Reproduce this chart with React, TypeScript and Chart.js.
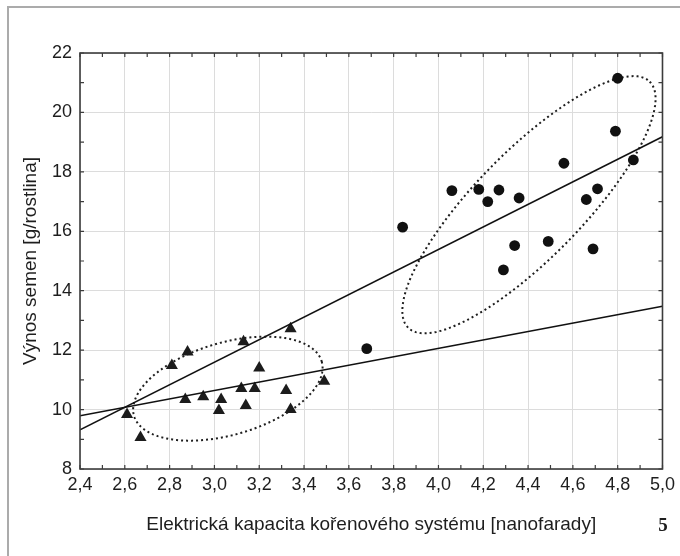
import React, { useEffect, useRef } from "react";
import { Chart, registerables } from "chart.js";

Chart.register(...registerables);

// ---- data ----
const triangleX = [2.61, 2.67, 2.81, 2.88, 2.87, 2.95, 3.03, 3.02, 3.12, 3.14, 3.13, 3.18, 3.2, 3.32, 3.34, 3.34, 3.49];
const triangleY = [9.83, 9.06, 11.48, 11.94, 10.34, 10.43, 10.34, 9.97, 10.71, 10.14, 12.28, 10.71, 11.4, 10.64, 12.72, 10.0, 10.95];

const circleX = [3.68, 3.84, 4.06, 4.18, 4.22, 4.27, 4.36, 4.29, 4.34, 4.49, 4.56, 4.66, 4.71, 4.69, 4.79, 4.8, 4.87];
const circleY = [12.05, 16.14, 17.37, 17.41, 17.0, 17.39, 17.12, 14.7, 15.52, 15.66, 18.29, 17.07, 17.43, 15.41, 19.37, 21.15, 18.4];

const steepLineX = [2.4, 5.0];
const steepLineY = [9.32, 19.18];
const shallowLineX = [2.4, 5.0];
const shallowLineY = [9.79, 13.48];

const xTicks = [2.4, 2.6, 2.8, 3.0, 3.2, 3.4, 3.6, 3.8, 4.0, 4.2, 4.4, 4.6, 4.8, 5.0];
const yTicks = [8, 10, 12, 14, 16, 18, 20, 22];

// ellipses: centre and two conjugate semi-diameter end points (data units)
const ellipseCenters = [
  [3.06, 10.704],
  [4.404, 16.894],
];
const ellipseAxisA = [
  [3.479, 11.616],
  [4.943, 21.034],
];
const ellipseAxisB = [
  [3.117, 9.21],
  [4.574, 15.632],
];

const xTitle = "Elektrická kapacita kořenového systému [nanofarady]";
const yTitle = "Výnos semen [g/rostlina]";
const figureNumber = "5";

const SANS = "'Liberation Sans', Arial, sans-serif";
const SERIF = "'Liberation Serif', 'Times New Roman', serif";

const fmt = (v: number) => Number(v).toFixed(1).replace(".", ",");

const decorPlugin = {
  id: "decor",
  beforeDraw(chart: any) {
    const ctx = chart.ctx;
    ctx.save();
    ctx.fillStyle = "#ffffff";
    ctx.fillRect(0, 0, chart.width, chart.height);
    ctx.strokeStyle = "#ababab";
    ctx.lineWidth = 2;
    ctx.beginPath();
    ctx.moveTo(8, chart.height);
    ctx.lineTo(8, 7);
    ctx.lineTo(chart.width, 7);
    ctx.stroke();
    ctx.restore();
  },
  beforeDatasetsDraw(chart: any) {
    const ctx = chart.ctx;
    const xs = chart.scales.x;
    const ys = chart.scales.y;
    ctx.save();
    ctx.strokeStyle = "#1e1e1e";
    ctx.lineWidth = 2;
    ctx.setLineDash([2, 3]);
    for (let e = 0; e < ellipseCenters.length; e++) {
      const cx = xs.getPixelForValue(ellipseCenters[e][0]);
      const cy = ys.getPixelForValue(ellipseCenters[e][1]);
      const ax = xs.getPixelForValue(ellipseAxisA[e][0]) - cx;
      const ay = ys.getPixelForValue(ellipseAxisA[e][1]) - cy;
      const bx = xs.getPixelForValue(ellipseAxisB[e][0]) - cx;
      const by = ys.getPixelForValue(ellipseAxisB[e][1]) - cy;
      ctx.beginPath();
      const n = 240;
      for (let i = 0; i <= n; i++) {
        const t = (i / n) * Math.PI * 2;
        const px = cx + ax * Math.cos(t) + bx * Math.sin(t);
        const py = cy + ay * Math.cos(t) + by * Math.sin(t);
        if (i === 0) ctx.moveTo(px, py);
        else ctx.lineTo(px, py);
      }
      ctx.stroke();
    }
    ctx.restore();
  },
  afterDraw(chart: any) {
    const ctx = chart.ctx;
    const a = chart.chartArea;
    const xs = chart.scales.x;
    const ys = chart.scales.y;
    ctx.save();
    // frame
    ctx.strokeStyle = "#3c3c3c";
    ctx.lineWidth = 1.6;
    ctx.setLineDash([]);
    ctx.strokeRect(a.left, a.top, a.right - a.left, a.bottom - a.top);
    // inward minor ticks
    ctx.lineWidth = 1.2;
    const tl = 4;
    ctx.beginPath();
    for (let i = 0; i <= 26; i++) {
      const px = xs.getPixelForValue(xs.min + i * 0.1);
      ctx.moveTo(px, a.bottom);
      ctx.lineTo(px, a.bottom - tl);
      ctx.moveTo(px, a.top);
      ctx.lineTo(px, a.top + tl);
    }
    for (let v = ys.min; v <= ys.max; v += 1) {
      const py = ys.getPixelForValue(v);
      ctx.moveTo(a.left, py);
      ctx.lineTo(a.left + tl, py);
      ctx.moveTo(a.right, py);
      ctx.lineTo(a.right - tl, py);
    }
    ctx.stroke();
    // titles
    ctx.fillStyle = "#1e1e1e";
    ctx.font = `19px ${SANS}`;
    ctx.textAlign = "center";
    ctx.textBaseline = "alphabetic";
    ctx.fillText(xTitle, (a.left + a.right) / 2, 530);
    ctx.save();
    ctx.translate(36, (a.top + a.bottom) / 2);
    ctx.rotate(-Math.PI / 2);
    ctx.fillText(yTitle, 0, 0);
    ctx.restore();
    ctx.font = `bold 19px ${SERIF}`;
    ctx.fillText(figureNumber, 663, 531);
    ctx.restore();
  },
};

export default function App() {
  const ref = useRef<HTMLCanvasElement | null>(null);

  useEffect(() => {
    if (!ref.current) return;
    const toPts = (xs: number[], ys: number[]) => xs.map((x, i) => ({ x, y: ys[i] }));
    const chart = new Chart(ref.current, {
      type: "scatter",
      data: {
        datasets: [
          {
            label: "steep",
            type: "line",
            data: toPts(steepLineX, steepLineY),
            borderColor: "#111",
            borderWidth: 1.6,
            pointRadius: 0,
            showLine: true,
            fill: false,
          },
          {
            label: "shallow",
            type: "line",
            data: toPts(shallowLineX, shallowLineY),
            borderColor: "#111",
            borderWidth: 1.6,
            pointRadius: 0,
            showLine: true,
            fill: false,
          },
          {
            label: "triangles",
            data: toPts(triangleX, triangleY),
            pointStyle: "triangle",
            pointRadius: 7,
            backgroundColor: "#1c1c1c",
            borderColor: "#1c1c1c",
            borderWidth: 0,
          },
          {
            label: "circles",
            data: toPts(circleX, circleY),
            pointStyle: "circle",
            pointRadius: 5.4,
            backgroundColor: "#111",
            borderColor: "#111",
            borderWidth: 0,
          },
        ],
      },
      options: {
        responsive: false,
        animation: false,
        devicePixelRatio: 1,
        layout: { padding: { top: 53, right: 17, left: 0, bottom: 0 } },
        plugins: {
          legend: { display: false },
          tooltip: { enabled: false },
          title: { display: false },
        },
        scales: {
          x: {
            type: "linear",
            min: 2.4,
            max: 5.0,
            afterBuildTicks: (s: any) => {
              s.ticks = xTicks.map((v) => ({ value: v }));
            },
            afterFit: (s: any) => {
              s.height = 87;
            },
            ticks: {
              callback: (v: any) => fmt(v),
              font: { family: SANS, size: 18 },
              color: "#1e1e1e",
              padding: 5,
              maxRotation: 0,
              autoSkip: false,
            },
            grid: { color: "#dcdcdc", lineWidth: 1, drawTicks: false },
            border: { display: false },
          },
          y: {
            type: "linear",
            min: 8,
            max: 22,
            afterBuildTicks: (s: any) => {
              s.ticks = yTicks.map((v) => ({ value: v }));
            },
            afterFit: (s: any) => {
              s.width = 80;
            },
            ticks: {
              callback: (v: any) => String(v),
              font: { family: SANS, size: 18 },
              color: "#1e1e1e",
              padding: 8,
              autoSkip: false,
            },
            grid: { color: "#dcdcdc", lineWidth: 1, drawTicks: false },
            border: { display: false },
          },
        },
      },
      plugins: [decorPlugin],
    });
    return () => chart.destroy();
  }, []);

  return (
    <div style={{ position: "fixed", left: 0, top: 0, width: 680, height: 556, background: "#fff" }}>
      <canvas ref={ref} width={680} height={556} />
    </div>
  );
}
